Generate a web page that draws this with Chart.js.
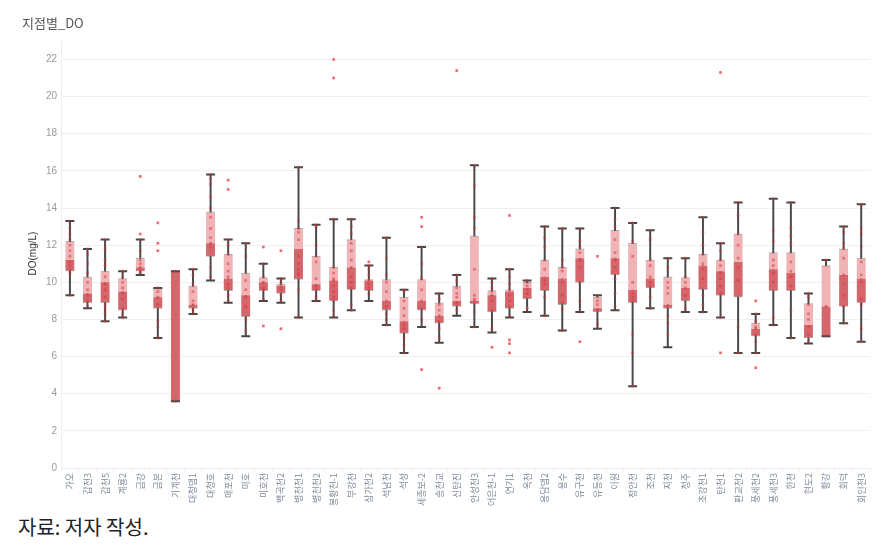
<!DOCTYPE html>
<html>
<head>
<meta charset="utf-8">
<script src="https://cdn.jsdelivr.net/npm/chart.js@4/dist/chart.umd.min.js"></script>
<style>
  html, body { margin: 0; padding: 0; background: #fff; }
  #wrap { position: relative; width: 896px; height: 550px; }
  #title { position: absolute; left: 22px; top: 13px; font: 13px 'Noto Sans CJK KR', sans-serif; color: #555; }
  #chartBox { position: absolute; left: 0; top: 0; width: 896px; height: 508px; }
  #caption { position: absolute; left: 18px; top: 512px; font: 20px 'Noto Sans CJK KR', serif; color: #222; }
</style>
</head>
<body>
<div id="wrap">
  <div id="chartBox"><canvas id="c"></canvas></div>
  <div id="title">지점별_DO</div>
  <div id="caption">자료: 저자 작성.</div>
</div>
<script>
const stations = ["가오","갑천3","갑천5","계룡2","금강","금본","기계천","대청댐1","대청호","매포천","미호","미호천","백곡천2","병천천1","병천천2","봉황천-1","부강천","삼가천2","석남천","석성","세종보-2","송천교","신탄진","안성천3","어은천-1","연기1","옥천","용담댐2","용수","유구천","유등천","이원","정안천","조천","지천","청주","초강천1","탄천1","판교천2","풍세천2","풍세천3","한천","현도2","황강","회덕","회인천3"];
const whiskerLow  = [9.3,8.6,7.9,8.1,10.4,7.0,3.6,8.3,10.1,8.9,7.1,9.0,8.9,8.1,9.0,8.1,8.5,9.0,7.7,6.2,7.6,6.75,8.2,7.6,7.3,8.1,8.4,8.2,7.4,8.4,7.5,8.5,4.4,8.6,6.5,8.4,8.4,8.1,6.2,6.2,7.7,7.0,6.7,7.1,7.8,6.8];
const q1          = [10.6,8.9,8.9,8.5,10.6,8.6,3.6,8.6,11.4,9.55,8.15,9.55,9.4,10.15,9.55,9.0,9.6,9.55,8.5,7.25,8.5,7.8,8.7,8.85,8.4,8.6,9.1,9.55,8.8,10.0,8.4,10.4,8.9,9.7,8.6,9.0,9.6,9.3,9.2,7.1,9.55,9.55,7.0,7.1,8.7,8.9];
const median      = [11.2,9.4,10.0,9.5,10.8,9.2,10.6,8.8,12.1,10.2,9.3,10.0,9.8,11.8,9.9,10.1,10.8,10.1,9.0,7.9,9.0,8.2,9.0,9.0,9.3,9.5,9.7,10.3,10.2,11.3,8.6,11.3,9.6,10.2,8.8,9.7,10.9,10.6,11.1,7.5,10.7,10.5,7.7,8.7,10.4,10.2];
const q3          = [12.2,10.3,10.6,10.2,11.3,9.7,10.6,9.8,13.8,11.5,10.5,10.25,9.9,12.9,11.4,10.8,12.3,10.15,10.15,9.2,10.15,8.9,9.8,12.5,9.55,9.6,10.0,11.2,10.8,11.8,9.2,12.8,12.1,11.2,10.3,10.25,11.5,11.2,12.6,7.8,11.6,11.6,8.85,10.9,11.8,11.3];
const whiskerHigh = [13.3,11.8,12.3,10.6,12.3,9.7,10.6,10.7,15.8,12.3,12.1,11.0,10.2,16.2,13.1,13.4,13.4,10.9,12.4,9.6,11.9,9.4,10.4,16.3,10.2,10.7,10.1,13.0,12.9,12.9,9.3,14.0,13.2,12.8,11.3,11.3,13.5,12.1,14.3,8.3,14.5,14.3,9.4,11.2,13.0,14.2];
const observations = [
  [13.3,12.9,12.6,12.3,12.0,11.7,11.4,11.1,10.9,10.7,10.5,9.3],
  [11.8,11.5,11.0,10.5,10.0,9.6,9.3,9.0,8.7],
  [12.3,11.8,11.2,10.9,10.3,9.9,9.6,9.2,8.8,8.6,8.3,7.9],
  [10.6,10.3,10.0,9.7,9.4,9.1,8.6,8.3,8.1],
  [12.3,11.7,11.2,11.0,10.8,10.6,10.5],
  [9.7,9.5,9.2,8.8,7.9,7.6,7.0],
  [10.6,3.6],
  [10.7,10.4,9.9,9.5,9.0,8.8,8.5,8.3],
  [15.8,15.6,15.3,14.6,14.0,13.5,12.9,12.4,12.1,11.9,10.8,10.3],
  [12.3,12.0,11.5,11.0,10.6,10.3,9.9,9.7,9.3,9.0],
  [12.1,11.4,10.1,9.6,9.2,8.7,8.0,7.4],
  [11.0,10.3,10.0,9.7,9.6,9.1],
  [10.2,10.0,9.8,9.6,9.3,9.0],
  [16.2,13.3,12.9,12.7,12.3,11.4,11.0,10.7,10.5,10.4,9.6,8.1],
  [13.1,13.0,12.0,11.4,11.1,10.2,9.8,9.6,9.2,9.0],
  [13.4,10.8,10.5,10.2,10.1,9.8,9.5,9.2,9.0,8.5,8.2],
  [13.4,13.0,12.6,12.1,11.7,11.2,10.8,10.3,10.0,9.7,8.8,8.5],
  [10.9,10.7,10.4,10.1,9.9,9.7,9.4],
  [12.4,11.3,10.4,10.0,9.5,9.0,8.7,8.3,8.0,7.7],
  [9.6,9.5,9.0,8.6,8.2,7.7,7.5,7.0,6.6,6.2],
  [11.9,11.0,10.2,9.6,9.0,8.6,8.0],
  [9.4,9.1,8.8,8.5,8.2,7.9,7.5,7.0],
  [10.4,10.1,9.7,9.4,9.2,8.9,8.5],
  [16.3,15.2,13.5,12.9,10.7,9.3,9.1,9.0,8.4,7.6],
  [10.2,10.0,9.7,9.5,9.3,9.0,8.5,7.5],
  [10.7,10.3,9.9,9.6,9.3,9.0,8.7,8.2],
  [10.1,10.0,9.8,9.6,9.4],
  [13.0,12.4,11.9,11.2,10.7,10.1,9.9,9.2,8.2],
  [12.9,11.2,10.8,10.6,10.0,9.3,8.9,8.6,7.4],
  [12.9,12.2,11.9,11.6,11.2,10.8,10.0,9.0,8.4],
  [9.3,9.0,8.8,8.5,7.8,7.6],
  [14.0,13.4,13.0,12.3,11.6,11.2,10.8,10.2,9.4,8.7],
  [13.2,12.2,11.4,10.0,9.4,9.2,9.0,7.2,6.2,4.4],
  [12.8,12.3,11.2,10.9,10.3,10.0,9.8,9.2,8.6],
  [11.3,10.8,10.0,9.7,9.4,8.7,8.2,7.8,7.2],
  [11.3,10.3,10.0,9.7,9.3,8.6],
  [13.5,12.7,12.0,11.5,11.0,10.7,10.2,9.3,8.8,8.4],
  [12.1,11.7,11.2,10.9,10.5,10.2,9.8,9.4,8.1],
  [14.3,13.6,12.6,12.0,11.3,10.8,10.1,7.6,6.2],
  [8.3,7.9,7.6,7.5,7.2,6.8,6.2],
  [14.5,12.8,12.2,11.2,10.9,10.5,10.0,8.1,7.7],
  [14.3,12.9,12.5,12.1,11.1,10.6,10.3,9.8,8.5,7.0],
  [9.4,9.2,8.8,8.3,8.0,7.6,7.2,6.8],
  [11.2,8.7,7.1],
  [13.0,12.7,12.1,11.8,11.3,10.4,9.9,9.3,8.7,7.8],
  [14.2,12.9,12.6,11.9,11.1,10.4,10.0,9.1,8.8,7.5,6.8]
];
const outliers = [
  [],[],[],[],[15.7,12.6],[13.2,12.1,11.7],[],[],[],[15.5,15.0],[],[11.9,7.65],[11.7,7.5],[],[],[22.0,21.0],
  [],[11.1],[],[],[13.5,13.0,5.3],[4.3],[21.4],[],[6.5],[13.6,6.9,6.7,6.2],[8.6],[],[],[6.8],[11.4],[],
  [],[],[],[],[],[6.2,21.3],[],[9.0,5.4],[],[],[],[],[],[]
];

const yTicks = [0,2,4,6,8,10,12,14,16,18,20,22];

const whiskerData = stations.map((s,i)=>[whiskerLow[i], whiskerHigh[i]]);
const lowerBox = stations.map((s,i)=>[q1[i], median[i]]);
const upperBox = stations.map((s,i)=>[median[i], q3[i]]);
const capData = [];
stations.forEach((s,i)=>{ capData.push({x:s,y:whiskerLow[i]}); capData.push({x:s,y:whiskerHigh[i]}); });
const pointData = [];
stations.forEach((s,i)=>observations[i].forEach(v=>pointData.push({x:s,y:v})));
const outlierData = [];
stations.forEach((s,i)=>outliers[i].forEach(v=>outlierData.push({x:s,y:v})));

const edge = 'rgba(110,110,110,0.55)';
new Chart(document.getElementById('c'), {
  type: 'bar',
  data: {
    labels: stations,
    datasets: [
      { type:'bar', data: whiskerData, backgroundColor:'#474747', barThickness:1.3, grouped:false, order:5 },
      { type:'bar', data: lowerBox, backgroundColor:'#d5666b', borderColor: edge, borderWidth:{top:0,bottom:1,left:0,right:0}, borderSkipped:false, barThickness:9, grouped:false, order:3 },
      { type:'bar', data: upperBox, backgroundColor:'#f0b4b6', borderColor: edge, borderWidth:{top:1,bottom:0,left:0,right:0}, borderSkipped:false, barThickness:9, grouped:false, order:4 },
      { type:'scatter', data: capData, pointStyle:'line', radius:4.5, borderWidth:2, borderColor:'#474747', order:2 },
      { type:'scatter', data: pointData, pointStyle:'rect', radius:1.9, backgroundColor:'rgba(214,50,55,0.5)', borderWidth:0, order:1 },
      { type:'scatter', data: outlierData, pointStyle:'rect', radius:1.9, backgroundColor:'rgba(228,60,60,0.75)', borderWidth:0, order:1 }
    ]
  },
  options: {
    responsive: true,
    maintainAspectRatio: false,
    animation: false,
    layout: { padding: { left: 27, right: 26, top: 39, bottom: 0 } },
    plugins: { legend: { display:false }, tooltip: { enabled:false }, title: { display:false } },
    scales: {
      x: {
        type: 'category',
        offset: true,
        grid: { display: true, drawOnChartArea: false, color: '#e8e8e8', tickLength: 3, offset: true },
        border: { color: '#eeeeee' },
        ticks: { autoSkip: false, maxRotation: 90, minRotation: 90, color: '#7f8a99', padding: 2,
                 font: { family: "'Noto Sans CJK KR', sans-serif", size: 9 } }
      },
      y: {
        min: 0, max: 23.1,
        afterBuildTicks: (axis) => { axis.ticks = yTicks.map(v=>({value:v})); },
        grid: { color: '#f0f0f0', tickLength: 0, drawTicks: false },
        border: { color: '#eeeeee' },
        ticks: { color: '#999', padding: 4, font: { family: "'Liberation Sans', sans-serif", size: 10 } },
        title: { display: true, text: 'DO(mg/L)', color: '#333', padding: { top: 0, bottom: 3 },
                 font: { family: "'Liberation Sans', sans-serif", size: 10 } }
      }
    }
  }
});
</script>
</body>
</html>
